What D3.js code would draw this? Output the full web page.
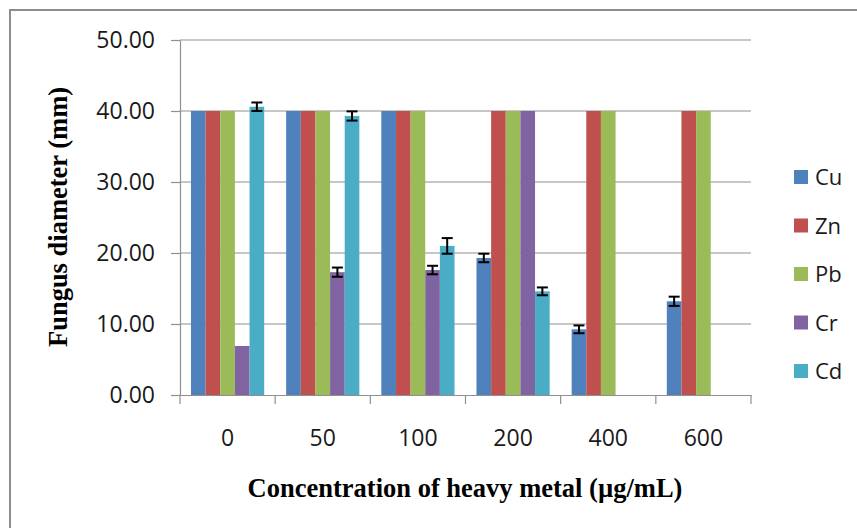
<!DOCTYPE html>
<html>
<head>
<meta charset="utf-8">
<script src="https://cdn.jsdelivr.net/npm/d3@7"></script>
<style>
  html, body { margin: 0; padding: 0; background: #fff; }
  svg { display: block; }
</style>
</head>
<body>
<div id="chart"></div>
<script>
// chart data
const categories = ["0", "50", "100", "200", "400", "600"];
const seriesNames = ["Cu", "Zn", "Pb", "Cr", "Cd"];
const seriesColors = ["#4F81BD", "#C0504D", "#9BBB59", "#8064A2", "#4BACC6"];

const cuValues = [40, 40, 40, 19.3, 9.25, 13.2];
const znValues = [40, 40, 40, 40, 40, 40];
const pbValues = [40, 40, 40, 40, 40, 40];
const crValues = [6.9, 17.3, 17.6, 40, 0, 0];
const cdValues = [40.6, 39.3, 21.0, 14.6, 0, 0];

// error bars (null = no bar drawn)
const cuErrors = [null, null, null, 0.6, 0.55, 0.65];
const znErrors = [null, null, null, null, null, null];
const pbErrors = [null, null, null, null, null, null];
const crErrors = [null, 0.65, 0.6, null, null, null];
const cdErrors = [0.6, 0.65, 1.1, 0.55, null, null];

const yTicks = [0, 10, 20, 30, 40, 50];

const values = [cuValues, znValues, pbValues, crValues, cdValues];
const errors = [cuErrors, znErrors, pbErrors, crErrors, cdErrors];

const width = 857;
const height = 528;
const plot = { left: 180, right: 751, top: 40, bottom: 395 };
const labelFont = "'Open Sans', Calibri, Arial, sans-serif";
const titleFont = "'Liberation Serif', 'Times New Roman', serif";

const svg = d3.select("#chart")
    .append("svg")
    .attr("width", width)
    .attr("height", height);

// outer chart border (runs off the right and bottom of the picture)
svg.append("rect")
    .attr("x", 10)
    .attr("y", 10)
    .attr("width", width + 20)
    .attr("height", height + 20)
    .attr("fill", "#fff")
    .attr("stroke", "#8c8c8c")
    .attr("stroke-width", 2);

/** scales */
const x0 = d3.scaleBand()
    .domain(categories)
    .range([plot.left, plot.right])
    .paddingInner(0)
    .paddingOuter(0);

const x1 = d3.scaleBand()
    .domain(seriesNames)
    .range([0, x0.bandwidth()])
    .paddingInner(0)
    .paddingOuter(0.75);

const y = d3.scaleLinear()
    .domain([0, 50])
    .range([plot.bottom, plot.top]);

// gridlines
svg.append("g")
    .selectAll("line")
    .data(yTicks.filter(d => d > 0))
    .enter()
    .append("line")
    .attr("x1", plot.left)
    .attr("x2", plot.right)
    .attr("y1", d => y(d))
    .attr("y2", d => y(d))
    .attr("stroke", "#8f8f8f")
    .attr("stroke-width", 1.2);

/** bars */
const rows = categories.map((c, i) => ({
    category: c,
    bars: seriesNames.map((s, j) => ({
        series: s,
        color: seriesColors[j],
        value: values[j][i],
        error: errors[j][i]
    }))
}));

const groups = svg.append("g")
    .selectAll("g")
    .data(rows)
    .enter()
    .append("g")
    .attr("transform", d => `translate(${x0(d.category)},0)`);

groups.selectAll("rect")
    .data(d => d.bars.filter(b => b.value > 0))
    .enter()
    .append("rect")
    .attr("x", d => x1(d.series))
    .attr("y", d => y(d.value))
    .attr("width", x1.bandwidth())
    .attr("height", d => y(0) - y(d.value))
    .attr("fill", d => d.color);

// error bars
const errEnter = groups.selectAll("g.err")
    .data(d => d.bars.filter(b => b.error !== null))
    .enter()
    .append("g")
    .attr("class", "err")
    .attr("stroke", "#000")
    .attr("stroke-width", 2);

const cx = d => x1(d.series) + x1.bandwidth() / 2;
const capHalf = 5.5;

errEnter.append("line")
    .attr("x1", cx)
    .attr("x2", cx)
    .attr("y1", d => y(d.value + d.error))
    .attr("y2", d => y(d.value - d.error));

errEnter.append("line")
    .attr("x1", d => cx(d) - capHalf)
    .attr("x2", d => cx(d) + capHalf)
    .attr("y1", d => y(d.value + d.error))
    .attr("y2", d => y(d.value + d.error));

errEnter.append("line")
    .attr("x1", d => cx(d) - capHalf)
    .attr("x2", d => cx(d) + capHalf)
    .attr("y1", d => y(d.value - d.error))
    .attr("y2", d => y(d.value - d.error));

/** axes */
const yAxis = svg.append("g")
    .attr("transform", `translate(${plot.left},0)`)
    .call(d3.axisLeft(y)
        .tickValues(yTicks)
        .tickFormat(d3.format(".2f"))
        .tickSize(9)
        .tickPadding(16)
        .tickSizeOuter(0));

yAxis.select(".domain").attr("stroke", "#8f8f8f").attr("stroke-width", 1.2);
yAxis.selectAll(".tick line").attr("stroke", "#8f8f8f").attr("stroke-width", 1.2);
yAxis.selectAll(".tick text")
    .attr("font-family", labelFont)
    .attr("font-size", 23)
    .attr("fill", "#1a1a1a");

const xAxis = svg.append("g")
    .attr("transform", `translate(0,${plot.bottom})`)
    .call(d3.axisBottom(x0)
        .tickSize(0)
        .tickPadding(35)
        .tickSizeOuter(0));

xAxis.select(".domain").attr("stroke", "#8f8f8f").attr("stroke-width", 1.2);
xAxis.selectAll(".tick text")
    .attr("font-family", labelFont)
    .attr("font-size", 23)
    .attr("fill", "#1a1a1a");

// tick marks sit between the categories, as in Excel
xAxis.append("g")
    .selectAll("line")
    .data(categories.map(c => x0(c)).concat([plot.right]))
    .enter()
    .append("line")
    .attr("x1", d => d)
    .attr("x2", d => d)
    .attr("y1", 0)
    .attr("y2", 9)
    .attr("stroke", "#8f8f8f")
    .attr("stroke-width", 1.2);

/** axis titles */
svg.append("text")
    .attr("x", 465)
    .attr("y", 497)
    .attr("text-anchor", "middle")
    .attr("font-family", titleFont)
    .attr("font-weight", "bold")
    .attr("font-size", 26.5)
    .attr("fill", "#000")
    .text("Concentration of heavy metal (µg/mL)");

svg.append("text")
    .attr("transform", "translate(67,217) rotate(-90)")
    .attr("text-anchor", "middle")
    .attr("font-family", titleFont)
    .attr("font-weight", "bold")
    .attr("font-size", 26.5)
    .attr("fill", "#000")
    .text("Fungus diameter (mm)");

/** legend */
const legend = svg.append("g")
    .selectAll("g")
    .data(seriesNames)
    .enter()
    .append("g")
    .attr("transform", (d, i) => `translate(794,${177 + i * 48.5})`);

legend.append("rect")
    .attr("x", 0)
    .attr("y", -7)
    .attr("width", 14)
    .attr("height", 14)
    .attr("fill", (d, i) => seriesColors[i]);

legend.append("text")
    .attr("x", 21)
    .attr("y", 8)
    .attr("font-family", labelFont)
    .attr("font-size", 22)
    .attr("fill", "#1a1a1a")
    .text(d => d);
</script>
</body>
</html>
